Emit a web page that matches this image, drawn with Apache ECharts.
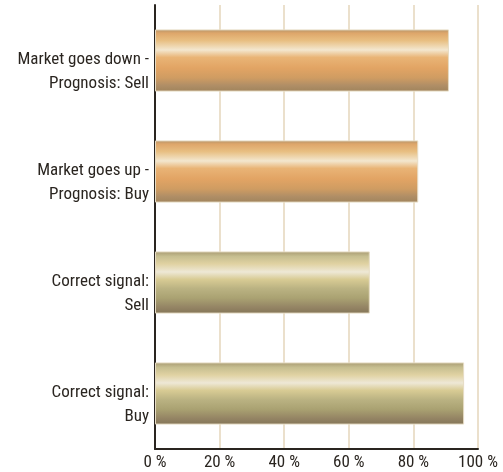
<!DOCTYPE html>
<html>
<head>
<meta charset="utf-8">
<script src="https://cdn.jsdelivr.net/npm/echarts@6/dist/echarts.min.js"></script>
<style>
  html, body { margin: 0; padding: 0; background: #fff; }
  #chart { width: 503px; height: 472px; }
</style>
</head>
<body>
<div id="chart"></div>
<script>
// categories listed bottom to top (category axis starts at bottom)
var categories = [
    'Correct signal:\nBuy',
    'Correct signal:\nSell',
    'Market goes up -\nPrognosis: Buy',
    'Market goes down -\nPrognosis: Sell'
];
var values = [95.7, 66.5, 81.5, 91];
var kinds = ['green', 'green', 'orange', 'orange'];
var xTicks = [0, 20, 40, 60, 80, 100];

var orangeFill = new echarts.graphic.LinearGradient(0, 0, 0, 1, [
    { offset: 0, color: '#b4946a' },
    { offset: 0.06, color: '#dea66a' },
    { offset: 0.18, color: '#e8bf82' },
    { offset: 0.33, color: '#f3e7cf' },
    { offset: 0.45, color: '#e9b476' },
    { offset: 0.62, color: '#e2a464' },
    { offset: 0.78, color: '#cf9c62' },
    { offset: 0.9, color: '#b08e66' },
    { offset: 1, color: '#a0845c' }
]);
var greenFill = new echarts.graphic.LinearGradient(0, 0, 0, 1, [
    { offset: 0, color: '#a89a72' },
    { offset: 0.08, color: '#c6be90' },
    { offset: 0.2, color: '#e0d2a2' },
    { offset: 0.33, color: '#eee8d6' },
    { offset: 0.45, color: '#d8cb94' },
    { offset: 0.6, color: '#bab282' },
    { offset: 0.75, color: '#aaa272' },
    { offset: 0.9, color: '#948464' },
    { offset: 1, color: '#847658' }
]);

var barData = values.map(function (v, i) {
    return {
        value: v,
        itemStyle: { color: kinds[i] === 'orange' ? orangeFill : greenFill }
    };
});

var chart = echarts.init(document.getElementById('chart'));
chart.setOption({
    backgroundColor: '#fff',
    animation: false,
    grid: { left: 155, right: 25, top: 5, bottom: 23, containLabel: false },
    xAxis: {
        type: 'value',
        min: 0,
        max: 100,
        interval: 20,
        axisLine: { show: true, lineStyle: { color: '#2a2520', width: 2 } },
        axisTick: { show: false },
        splitLine: { show: true, lineStyle: { color: '#ebe0cc', width: 2 } },
        axisLabel: {
            color: '#2a2520',
            fontFamily: 'Liberation Sans Narrow, Roboto Condensed, sans-serif',
            fontSize: 17,
            margin: 5,
            formatter: function (v) { return xTicks.indexOf(v) >= 0 ? v + ' %' : ''; }
        }
    },
    yAxis: {
        type: 'category',
        data: categories,
        axisLine: { show: true, lineStyle: { color: '#2a2520', width: 2 } },
        axisTick: { show: false },
        axisLabel: {
            color: '#2a2520',
            fontFamily: 'Liberation Sans Narrow, Roboto Condensed, sans-serif',
            fontSize: 17,
            lineHeight: 24,
            align: 'right',
            margin: 6,
            // small spacer line on top pushes the two text lines a bit below bar centre
            formatter: function (v) {
                return '{gap|}\n' + v.split('\n').map(function (s) { return '{t|' + s + '}'; }).join('\n');
            },
            rich: {
                gap: { height: 22, lineHeight: 22, fontSize: 1 },
                t: {
                    color: '#2a2520',
                    fontFamily: 'Liberation Sans Narrow, Roboto Condensed, sans-serif',
                    fontSize: 17,
                    lineHeight: 24,
                    align: 'right'
                }
            }
        }
    },
    series: [{
        type: 'bar',
        data: barData,
        barWidth: '56%',
        itemStyle: { borderColor: '#e6dcc4', borderWidth: 1 }
    }]
});
</script>
</body>
</html>
